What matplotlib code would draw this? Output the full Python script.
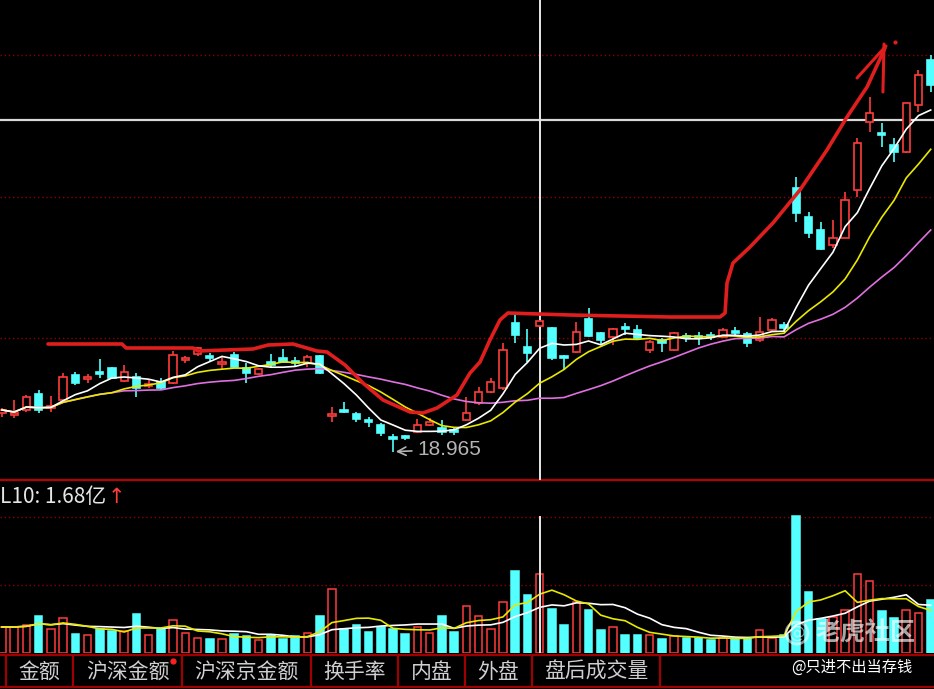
import matplotlib
matplotlib.use("Agg")
from matplotlib import pyplot as plt
from matplotlib.patches import Circle
import numpy as np
import pandas as pd

plt.rcParams['font.family'] = ['Noto Sans CJK SC', 'DejaVu Sans']

# daily candles (price, yuan)
opens = [19.74, 19.70, 19.80, 20.12, 19.84, 20.00, 20.50, 20.42, 20.56, 20.64,
         20.38, 20.46, 20.28, 20.36, 20.34, 20.80, 20.92, 20.88, 20.72, 20.90,
         20.64, 20.52, 20.76, 20.84, 20.78, 20.74, 20.88, 19.68, 19.80, 19.72,
         19.58, 19.50, 19.26, 19.26, 19.36, 19.50, 19.44, 19.40, 19.60, 19.94,
         20.16, 20.24, 21.54, 21.06, 21.48, 21.44, 20.88, 20.96, 21.62, 21.34,
         21.26, 21.46, 21.40, 21.00, 21.20, 21.00, 21.26, 21.26, 21.30, 21.26,
         21.36, 21.32, 21.20, 21.40, 21.50, 24.24, 23.66, 23.40, 23.10, 23.24,
         24.20, 25.56, 25.34, 25.10, 24.96, 25.90, 26.80]
highs = [19.84, 20.00, 20.10, 20.20, 20.08, 20.54, 20.56, 20.52, 20.82, 20.66,
         20.70, 20.54, 20.40, 20.44, 20.98, 20.88, 21.06, 20.94, 20.86, 20.96,
         20.74, 20.64, 20.92, 21.02, 20.86, 20.90, 20.90, 19.86, 19.96, 19.76,
         19.66, 19.54, 19.32, 19.30, 19.62, 19.64, 19.60, 19.44, 20.06, 20.26,
         20.44, 21.14, 21.70, 21.42, 21.60, 21.46, 20.90, 21.56, 21.84, 21.36,
         21.44, 21.54, 21.50, 21.20, 21.24, 21.36, 21.34, 21.36, 21.36, 21.44,
         21.46, 21.36, 21.66, 21.64, 21.56, 24.46, 23.76, 23.56, 23.60, 24.16,
         25.24, 26.06, 25.54, 25.24, 25.94, 26.60, 26.90]
lows = [19.66, 19.64, 19.76, 19.74, 19.76, 19.98, 20.30, 20.34, 20.44, 20.42,
        20.36, 20.06, 20.24, 20.20, 20.32, 20.74, 20.88, 20.76, 20.60, 20.64,
        20.34, 20.50, 20.66, 20.74, 20.66, 20.66, 20.52, 19.56, 19.74, 19.56,
        19.46, 19.28, 18.965, 19.20, 19.34, 19.48, 19.30, 19.30, 19.58, 19.90,
        20.14, 20.20, 21.14, 20.76, 21.46, 20.80, 20.60, 20.94, 21.26, 21.10,
        21.10, 21.30, 21.20, 20.94, 20.96, 20.98, 21.16, 21.10, 21.20, 21.24,
        21.30, 21.06, 21.16, 21.38, 21.36, 23.56, 23.24, 23.00, 23.04, 23.24,
        24.06, 25.36, 25.06, 24.76, 24.94, 25.76, 26.16]
closes = [19.80, 19.72, 20.06, 19.80, 19.88, 20.46, 20.34, 20.44, 20.52, 20.44,
          20.56, 20.24, 20.32, 20.24, 20.90, 20.82, 21.04, 20.84, 20.76, 20.66,
          20.54, 20.62, 20.70, 20.76, 20.74, 20.86, 20.54, 19.72, 19.76, 19.62,
          19.56, 19.34, 19.22, 19.24, 19.50, 19.56, 19.36, 19.36, 19.74, 20.16,
          20.36, 21.00, 21.30, 20.94, 21.58, 20.84, 20.84, 21.36, 21.28, 21.20,
          21.42, 21.42, 21.24, 21.16, 21.14, 21.34, 21.24, 21.24, 21.26, 21.40,
          21.34, 21.14, 21.36, 21.60, 21.44, 23.74, 23.34, 23.02, 23.24, 24.00,
          25.14, 25.74, 25.30, 24.96, 25.94, 26.50, 26.30]
# turnover (亿)
vols = [0.95, 0.95, 1.02, 1.35, 0.88, 1.28, 0.69, 0.66, 0.88, 0.80,
        0.80, 1.42, 0.66, 0.88, 1.20, 0.73, 0.55, 0.51, 0.51, 0.69,
        0.62, 0.47, 0.66, 0.51, 0.62, 0.73, 1.35, 2.34, 0.88, 1.02,
        0.77, 0.95, 0.88, 0.69, 0.95, 0.73, 1.35, 0.77, 1.72, 1.35,
        0.88, 1.86, 2.99, 2.12, 2.88, 1.61, 1.02, 1.86, 1.57, 0.84,
        0.95, 0.66, 0.66, 0.66, 0.51, 0.62, 0.55, 0.55, 0.47, 0.55,
        0.55, 0.55, 0.84, 0.55, 0.66, 5.00, 2.23, 1.24, 1.31, 1.57,
        2.88, 2.63, 1.53, 1.28, 1.57, 1.46, 1.93]

tabs = ["金额", "沪深金额", "沪深京金额", "换手率", "内盘", "外盘", "盘后成交量"]
tab_edges = [6, 73, 182, 311, 398, 465, 532, 660]
vol_label = "L10: 1.68亿"
grid_prices = [21.24, 24.06, 26.90]
vol_grid = [2.48, 4.96]
cross_idx = 44
cross_price = 25.6

# hand-drawn red marker (candle index, price)
annot_x = [3.76, 9.82, 10.15, 15.63, 16.04, 20.54, 21.77, 23.81, 25.78, 26.6,
           28.07, 29.54, 31.18, 33.39, 34.45, 35.6, 37.23, 38.3, 39.12, 39.93,
           40.75, 41.4, 46.5, 54.7, 58.76, 59.17, 59.33, 59.82, 61.21, 63.09,
           65.3, 67.51, 69.15, 70.79, 72.26]
annot_y = [21.12, 21.12, 21.04, 21.04, 20.98, 21.02, 21.10, 21.12, 20.98, 20.96,
           20.70, 20.34, 20.00, 19.76, 19.74, 19.84, 20.10, 20.54, 20.76, 21.20,
           21.60, 21.74, 21.70, 21.66, 21.66, 21.74, 22.34, 22.74, 23.06, 23.54,
           24.20, 25.00, 25.66, 26.26, 27.04]
wing_x = [69.97, 72.34]
wing_y = [26.44, 27.08]
stroke_x = [72.18, 72.09]
stroke_y = [27.12, 26.16]

RED = '#ff3c3c'
CYAN = '#54ffff'
W, H = 934, 689

fig = plt.figure(figsize=(W / 100, H / 100), dpi=100, facecolor='black')

def rect(top, bottom):
    return [0, 1 - bottom / H, 1, (bottom - top) / H]

bg = fig.add_axes([0, 0, 1, 1])
bg.set_xlim(0, W)
bg.set_ylim(H, 0)
bg.axis('off')
ax = fig.add_axes(rect(0, 480))
axv = fig.add_axes(rect(483, 653))
for a in (ax, axv):
    a.axis('off')
    a.set_xlim(-0.164, 76.27)
ax.set_ylim(18.4, 28.0)
axv.set_ylim(0, 6.2)
top = fig.add_axes([0, 0, 1, 1], zorder=10)
top.set_xlim(0, W)
top.set_ylim(H, 0)
top.axis('off')

o = np.array(opens); h = np.array(highs); l = np.array(lows); c = np.array(closes)
x = np.arange(len(c))
up = c >= o
cols = np.where(up, RED, CYAN)

# grid + crosshair
for p in grid_prices:
    ax.axhline(p, color='#8b0000', ls=(0, (1, 2)), lw=1, zorder=1)
for v in vol_grid:
    axv.axhline(v, color='#8b0000', ls=(0, (1, 2)), lw=1, zorder=1)
ax.axhline(cross_price, color='#d8d8d8', lw=1.6, zorder=2)
ax.axvline(cross_idx, color='#e8e8e8', lw=1.4, zorder=2)
axv.axvline(cross_idx, ymax=0.8, color='#e8e8e8', lw=1.4, zorder=6)

# candles
ax.vlines(x, l, h, colors=cols, lw=1.2, zorder=3)
body_h = np.maximum(np.abs(c - o), 0.03)
ax.bar(x, body_h, bottom=np.minimum(o, c), width=0.6,
       color=np.where(up, 'black', CYAN), edgecolor=cols, linewidth=1.2, zorder=4)

cs = pd.Series(c)
ax.plot(x, cs.rolling(20, min_periods=1).mean(), color='#e070e0', lw=1.2, zorder=5)
ax.plot(x, cs.rolling(10, min_periods=1).mean(), color='#e8e800', lw=1.2, zorder=5)
ax.plot(x, cs.rolling(5, min_periods=1).mean(), color='white', lw=1.2, zorder=5)

# lowest price marker
il = int(np.argmin(l))
ax.annotate(f"{l[il]:.3f}", xy=(il, l[il]), xytext=(il + 2.0, l[il] + 0.05),
            color='#b4b4b4', fontsize=15, va='center', family=['Liberation Sans'],
            arrowprops=dict(arrowstyle='->', color='#b4b4b4', lw=1.2), zorder=7)

# red annotation
ax.plot(annot_x, annot_y, color='#e01e1e', lw=2.6, solid_capstyle='round',
        solid_joinstyle='round', zorder=8)
ax.plot(wing_x, wing_y, color='#e01e1e', lw=2.2, solid_capstyle='round', zorder=8)
ax.plot(stroke_x, stroke_y, color='#e01e1e', lw=2.2, solid_capstyle='round', zorder=8)
ax.plot([73.08], [27.16], 'o', color='#e01e1e', ms=2, zorder=8)

# volume
v = np.array(vols)
axv.bar(x, v, width=0.62, color=np.where(up, 'black', CYAN), edgecolor=cols,
        linewidth=1.1, zorder=3)
vs = pd.Series(v)
axv.plot(x, vs.rolling(10, min_periods=1).mean(), color='white', lw=1.2, zorder=5)
axv.plot(x, vs.rolling(5, min_periods=1).mean(), color='#e8e800', lw=1.2, zorder=5)

# separators, header
bg.hlines(480, 0, W, color='#b40000', lw=1.6)
t = bg.text(0, 497, vol_label, color='#e6e6e6', fontsize=15, va='center', ha='left')
bg.annotate("↑", xy=(1, 0.5), xycoords=t, xytext=(1, 0), textcoords='offset points',
            color=RED, fontsize=15, va='center', family=['DejaVu Sans'])

# tab bar
bg.hlines([655, 687], 0, W, color='#a00000', lw=1.6)
bg.vlines(tab_edges, 655, 687, color='#a00000', lw=1.6)
for i, name in enumerate(tabs):
    cx = (tab_edges[i] + tab_edges[i + 1]) / 2
    bg.text(cx, 672, name, color='#cfcfcf', fontsize=15, ha='center', va='center')
bg.plot([173], [661], 'o', color='#ff2020', ms=3.5)

# watermark (on top of bars)
top.add_patch(Circle((797, 633), 11, fill=False, ec='white', lw=2, alpha=0.55))
top.text(797, 633, "@", color='white', alpha=0.55, fontsize=12, ha='center', va='center',
         family=['DejaVu Sans'])
top.text(866, 633, "老虎社区", color='white', alpha=0.65, fontsize=18, ha='center',
         va='center', fontweight='bold')
top.text(852, 667, "@只进不出当存钱", color='white', fontsize=11, ha='center', va='center')

fig.savefig("out.png", dpi=100, facecolor='black')
